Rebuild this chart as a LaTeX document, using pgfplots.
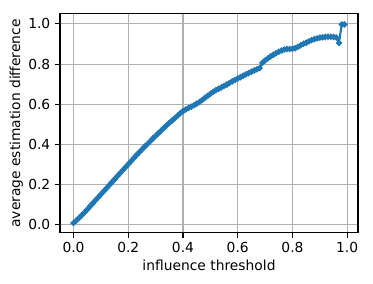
\documentclass[border=0pt]{standalone}
\usepackage{fontspec}
\setmainfont{DejaVu Sans}
\usepackage{pgfplots}
\pgfplotsset{compat=1.18}
\definecolor{mplblue}{HTML}{1F77B4}
\definecolor{mplgrid}{HTML}{B0B0B0}
\begin{document}
\begin{tikzpicture}
\begin{axis}[
  scale only axis,
  width=214.6bp, height=157.7bp,
  xmin=-0.0495, xmax=1.0395,
  ymin=-0.0395, ymax=1.0495,
  xtick={0,0.2,0.4,0.6,0.8,1.0},
  ytick={0,0.2,0.4,0.6,0.8,1.0},
  /pgf/number format/.cd, fixed, fixed zerofill, precision=1, assume math mode=true,
  /pgfplots/.cd,
  tick label style={font=\fontsize{10}{12}\selectfont, black},
  label style={font=\fontsize{10}{12}\selectfont},
  xlabel={influence threshold},
  ylabel={average estimation difference},
  tick align=outside,
  xtick pos=bottom, ytick pos=left,
  major tick length=3.5pt,
  tick style={line width=0.8pt, black},
  axis line style={line width=0.8pt},
  grid=major,
  major grid style={mplgrid, line width=0.8pt},
  xlabel style={yshift=2pt},
  ylabel style={yshift=-3pt},
]
\addplot[mplblue, line width=1.5pt, mark=*, mark size=1.4pt, mark options={draw=mplblue, fill=mplblue}] coordinates {
(0.00,0.010)(0.01,0.022)(0.02,0.035)(0.03,0.048)(0.04,0.062)(0.05,0.077)(0.06,0.092)(0.07,0.107)(0.08,0.122)(0.09,0.137)
(0.10,0.152)(0.11,0.167)(0.12,0.182)(0.13,0.197)(0.14,0.212)(0.15,0.227)(0.16,0.242)(0.17,0.257)(0.18,0.272)(0.19,0.287)
(0.20,0.302)(0.21,0.317)(0.22,0.332)(0.23,0.347)(0.24,0.361)(0.25,0.375)(0.26,0.389)(0.27,0.402)(0.28,0.416)(0.29,0.430)
(0.30,0.443)(0.31,0.456)(0.32,0.469)(0.33,0.482)(0.34,0.495)(0.35,0.507)(0.36,0.519)(0.37,0.531)(0.38,0.543)(0.39,0.555)
(0.40,0.566)(0.41,0.574)(0.42,0.581)(0.43,0.588)(0.44,0.595)(0.45,0.603)(0.46,0.611)(0.47,0.621)(0.48,0.632)(0.49,0.642)
(0.50,0.652)(0.51,0.662)(0.52,0.670)(0.53,0.677)(0.54,0.684)(0.55,0.691)(0.56,0.698)(0.57,0.706)(0.58,0.714)(0.59,0.721)
(0.60,0.728)(0.61,0.735)(0.62,0.742)(0.63,0.749)(0.64,0.755)(0.65,0.762)(0.66,0.768)(0.67,0.774)(0.68,0.780)(0.69,0.806)
(0.70,0.818)(0.71,0.828)(0.72,0.838)(0.73,0.846)(0.74,0.854)(0.75,0.861)(0.76,0.867)(0.77,0.872)(0.78,0.875)(0.79,0.875)
(0.80,0.876)(0.81,0.879)(0.82,0.886)(0.83,0.893)(0.84,0.901)(0.85,0.906)(0.86,0.913)(0.87,0.919)(0.88,0.924)(0.89,0.928)
(0.90,0.931)(0.91,0.933)(0.92,0.935)(0.93,0.936)(0.94,0.936)(0.95,0.935)(0.96,0.932)(0.97,0.905)(0.98,0.997)(0.99,0.997)
};
\end{axis}
\path ([shift={(-43.2bp,-36.7bp)}]current axis.south west) rectangle ([shift={(10.8bp,10bp)}]current axis.north east);
\end{tikzpicture}
\end{document}
